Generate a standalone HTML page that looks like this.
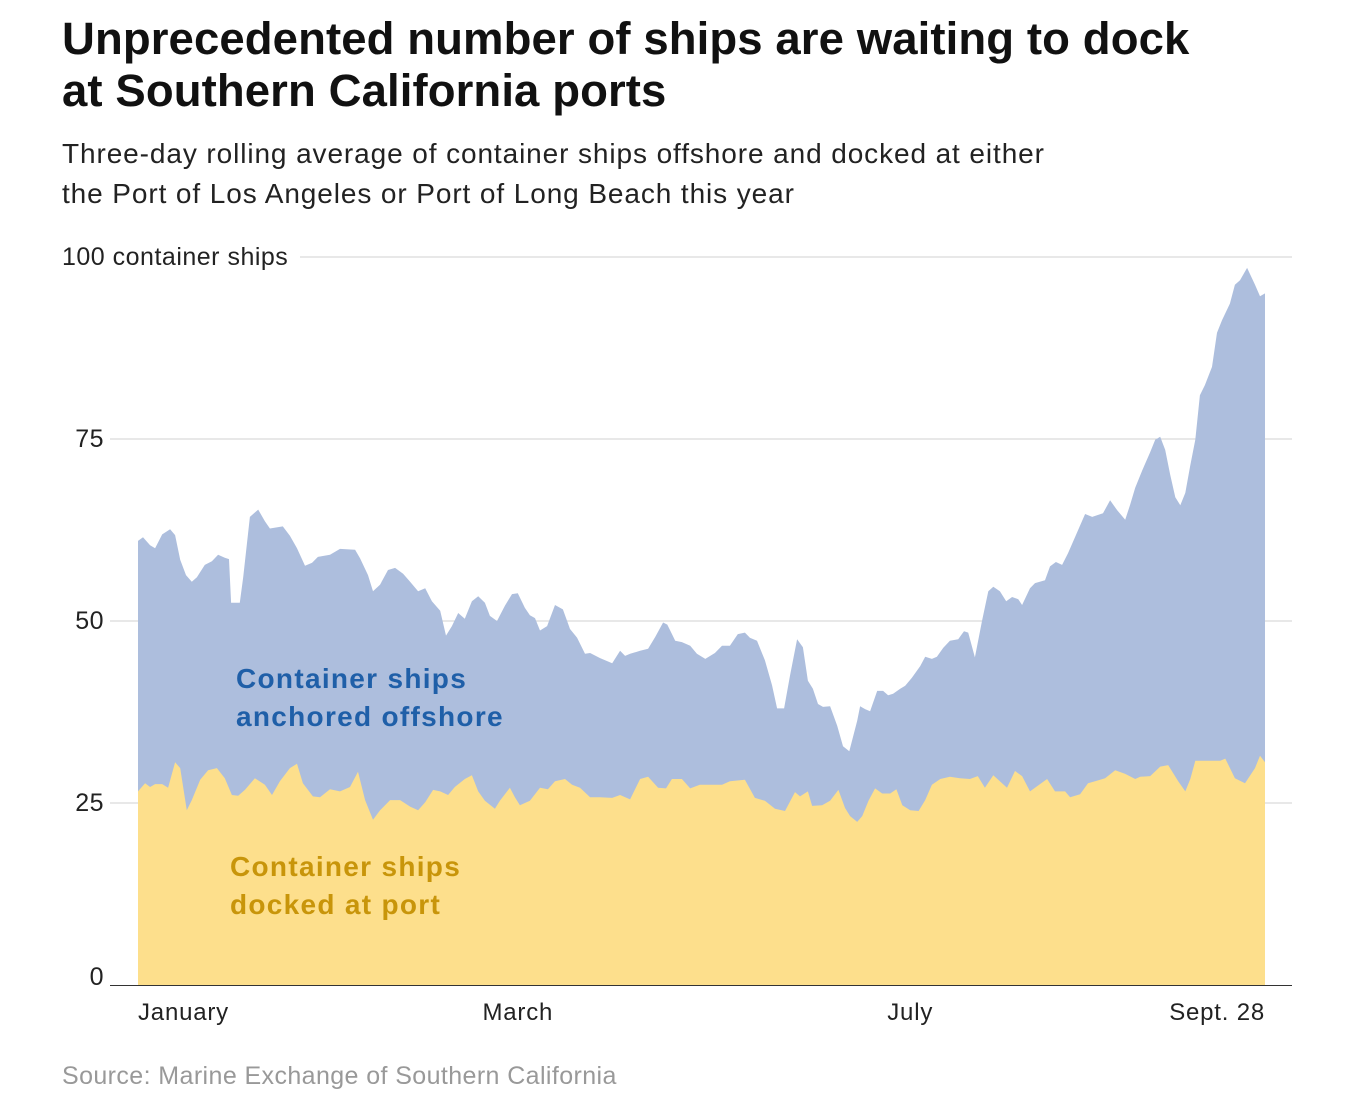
<!DOCTYPE html>
<html><head><meta charset="utf-8">
<style>
html,body{margin:0;padding:0;background:#fff;}
body{width:1372px;height:1114px;position:relative;overflow:hidden;font-family:"Liberation Sans",Arial,sans-serif;}
.t{position:absolute;white-space:nowrap;}
</style></head>
<body>
<div class="t" style="left:62px;top:13px;font-size:45.5px;font-weight:bold;line-height:52px;color:#111;letter-spacing:0.1px">Unprecedented number of ships are waiting to dock<br>at Southern California ports</div>
<div class="t" style="left:62px;top:134px;font-size:28px;line-height:40px;color:#222;letter-spacing:0.9px">Three-day rolling average of container ships offshore and docked at either<br>the Port of Los Angeles or Port of Long Beach this year</div>
<div class="t" style="left:62px;top:1062px;font-size:25px;color:#999;letter-spacing:0.4px">Source: Marine Exchange of Southern California</div>
<svg id="chart" width="1372" height="1114" style="position:absolute;left:0;top:0"></svg>
<script>
const yTicks=[0,25,50,75,100];
const yTickLabels=["0","25","50","75","100 container ships"];
const xTickDays=[0,91,185,270];
const xTickLabels=["January","March","July","Sept. 28"];
const totalDays=[0,1.2,2.9,4.1,5.8,7.7,8.9,10.1,11.5,12.9,14.1,16,17.7,19.2,20.8,21.8,22.3,24.4,25.2,26.8,28.8,30.4,31.6,34.7,36.4,38.1,40,41.7,43.1,46,48.4,52,53.2,55.1,56.3,58,59.9,61.6,63.5,65.2,67.1,68.8,70.4,72.4,73.8,75.2,76.7,78.3,80,81.5,83.1,84.3,86,87.9,89.6,91,92.7,93.9,95.1,96.3,98,99.9,101.8,103.5,105.2,107.1,108.3,110.7,113.6,115.5,116.7,117.9,120.3,122.2,123.9,125.8,126.8,128.7,130.3,132.3,133.9,135.9,138.2,139.9,141.8,143.7,145.4,146.6,148.3,150.2,151.9,153.1,154.8,156.2,157.9,159.3,160.5,161.7,162.9,164.1,165.8,167.5,168.9,170.4,172.3,173,174.2,175.4,177.1,178.5,179.7,180.9,182.6,183.8,185.4,187.4,188.6,190.2,191.4,192.9,194.5,196.5,197.9,198.9,200.5,202.2,203.7,204.9,206.5,208,209.4,210.9,211.8,213.7,214.9,217.3,218.5,219.9,221.4,222.8,224.7,226.9,228.6,231.2,232.9,234.6,236.5,237.7,238.9,240.6,242.5,243.7,244.9,246.1,247.3,248.5,249.7,250.9,252.1,253.3,254.4,255.6,257.3,258.5,259.7,261.6,262.8,264,265.7,267.6,268.8,270];
const totalVals=[61,61.5,60.4,60,61.9,62.6,61.8,58.4,56.3,55.4,56,57.7,58.2,59.1,58.7,58.5,52.5,52.5,56,64.3,65.3,63.7,62.7,63,61.7,60,57.6,58,58.8,59.1,59.9,59.8,58.6,56.3,54.1,55,57,57.3,56.5,55.4,54.1,54.5,52.7,51.4,48,49.3,51.1,50.3,52.7,53.4,52.5,50.7,50,52.1,53.7,53.8,51.8,50.8,50.4,48.7,49.3,52.2,51.6,48.9,47.7,45.5,45.6,44.9,44.2,45.9,45.2,45.5,45.9,46.2,47.8,49.8,49.5,47.3,47.1,46.6,45.5,44.8,45.6,46.6,46.6,48.2,48.4,47.7,47.3,44.6,41.2,38,38,42.5,47.5,46.4,41.8,40.7,38.6,38.2,38.3,35.6,32.8,32.1,36.3,38.3,37.9,37.6,40.4,40.4,39.8,40,40.7,41.1,42.2,43.8,45.1,44.8,45.1,46.3,47.3,47.5,48.6,48.4,45,50,54.1,54.7,54.1,52.7,53.3,53,52.2,54.5,55.2,55.6,57.5,58.1,57.7,59.3,61.8,64.7,64.3,64.8,66.6,65.2,63.9,66,68.3,70.7,73.2,74.9,75.3,73.5,70.1,67,65.9,67.6,71.4,74.9,81,82.4,84.9,89.6,91.3,93.6,96.2,96.8,98.5,96.2,94.6,95];
const dockDays=[0,1.7,2.9,4.1,5.8,7.2,8.9,10.1,11.7,12.9,14.9,16.8,18.9,20.8,22.5,24,25.6,28,30.4,32.1,34,36.4,38.1,39.5,41.9,43.6,46,48.4,50.8,52.7,54.4,56.3,58,60.4,62.8,65.2,67.1,68.8,70.7,72.4,74.3,75.9,78.3,80,81.5,83.1,85.5,86.7,89.1,90.3,91.5,93.9,96.3,98.2,99.9,102.3,104,105.9,108.3,110.7,113.6,115.5,117.9,120.3,122.2,124.6,126.5,127.9,130.3,132.3,134.6,137,139.9,141.8,145.4,147.8,150.2,152.6,155,157.4,158.6,160.5,161.5,163.9,165.8,167.8,169.4,170.6,172.3,173.5,175,176.6,178.3,180.2,181.7,183.1,185,187,188.6,190.2,192.2,194.5,196.9,199.3,201.2,202.9,204.9,208.2,210.1,211.8,213.7,216.1,217.8,219.7,222.1,223.3,225.7,227.6,229.3,231.7,234.1,236.5,238.9,240.1,242.5,244.9,246.8,249.2,250.9,252.1,253.3,256.9,259.3,260.5,262.8,265.2,267.6,268.8,270];
const dockVals=[26.6,27.7,27.2,27.6,27.6,27.1,30.6,29.8,24,25.4,28.2,29.5,29.8,28.4,26.1,26,26.8,28.4,27.5,26.1,28,29.8,30.4,27.7,25.9,25.8,26.9,26.6,27.2,29.3,25.4,22.7,24,25.4,25.4,24.5,24,25.1,26.8,26.6,26.1,27.2,28.3,28.8,26.6,25.3,24.2,25.3,27.1,25.8,24.7,25.3,27.1,26.9,28,28.3,27.5,27.1,25.8,25.8,25.7,26.1,25.5,28.3,28.6,27.1,27,28.3,28.3,27,27.5,27.5,27.5,28,28.2,25.7,25.3,24.2,23.9,26.5,25.9,26.6,24.6,24.7,25.3,26.8,24.3,23.2,22.4,23.2,25.3,27,26.3,26.3,26.9,24.7,24,23.9,25.4,27.5,28.3,28.6,28.4,28.3,28.7,27.1,28.8,27.1,29.4,28.7,26.6,27.6,28.3,26.6,26.6,25.8,26.2,27.7,28,28.4,29.5,29,28.3,28.6,28.7,30,30.2,28,26.6,28.3,30.8,30.8,30.8,31.1,28.4,27.7,29.8,31.5,30.6];

const NS="http://www.w3.org/2000/svg";
const svg=document.getElementById('chart');
const X=d=>138+d*(1127/270);
const Y=v=>985-v*7.28;
function mk(tag,attrs){const e=document.createElementNS(NS,tag);for(const k in attrs)e.setAttribute(k,attrs[k]);svg.appendChild(e);return e;}
function areaPath(days,vals){let p="M"+X(days[0])+","+Y(0);for(let i=0;i<days.length;i++)p+=" L"+X(days[i]).toFixed(1)+","+Y(vals[i]).toFixed(1);p+=" L"+X(days[days.length-1])+","+Y(0)+" Z";return p;}
yTicks.forEach((t,i)=>{
  if(t===0)return;
  const g=mk('line',{x1:i===4?300:110,x2:1292,y1:Y(t),y2:Y(t),stroke:'#d0d0d0','stroke-width':1});
  
  
});
const offshore=mk('path',{d:areaPath(totalDays,totalVals),fill:'#adbedd'});


const docked=mk('path',{d:areaPath(dockDays,dockVals),fill:'#fddf8c'});


const ax=mk('line',{x1:110,x2:1292,y1:Y(0)+0.5,y2:Y(0)+0.5,stroke:'#333','stroke-width':1});


yTicks.forEach((t,i)=>{
  const tx=mk('text',{x:i===4?62:104,y:Y(t)+(t===0?0:8),'font-size':25,'letter-spacing':i===4?0.5:0.5,fill:'#222','text-anchor':i===4?'start':'end','font-family':'Liberation Sans, sans-serif'});
  tx.textContent=yTickLabels[i];
  
  
});
xTickDays.forEach((d,i)=>{
  const anchor=i===0?'start':(i===3?'end':'middle');
  const tx=mk('text',{x:X(d),y:1020,'font-size':24,'letter-spacing':0.8,fill:'#222','text-anchor':anchor,'font-family':'Liberation Sans, sans-serif'});
  tx.textContent=xTickLabels[i];
  
  
});
function lbl(x,y,txt,col,name){const t=mk('text',{x:x,y:y,'font-size':28,'letter-spacing':1.3,'font-weight':'bold',fill:col,'font-family':'Liberation Sans, sans-serif'});t.textContent=txt;}
lbl(236,688,"Container ships","#1f5fa8","offshore-label-line1");
lbl(236,726,"anchored offshore","#1f5fa8","offshore-label-line2");
lbl(230,876,"Container ships","#c8950a","docked-label-line1");
lbl(230,914,"docked at port","#c8950a","docked-label-line2");
</script>
</body></html>
